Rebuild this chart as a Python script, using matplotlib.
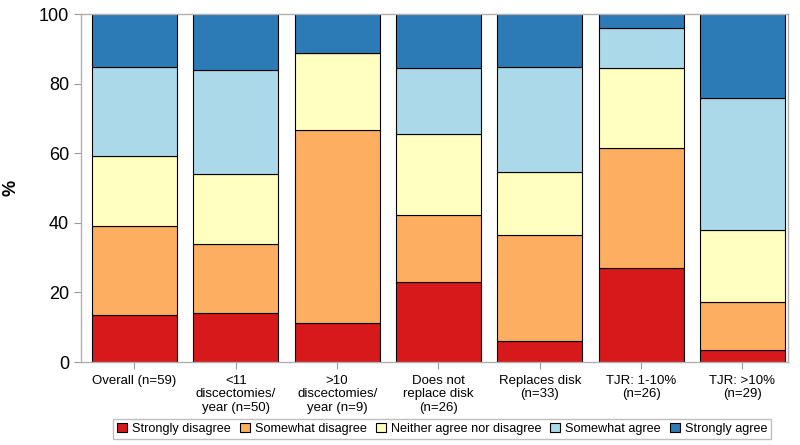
import numpy as np
import matplotlib.pyplot as plt
from matplotlib.patches import Patch

plt.rcParams['font.family'] = ['Liberation Sans', 'DejaVu Sans']

# ---- data (percent of respondents per group) ----
groups = ['Overall (n=59)',
          '<11\ndiscectomies/\nyear (n=50)',
          '>10\ndiscectomies/\nyear (n=9)',
          'Does not\nreplace disk\n(n=26)',
          'Replaces disk\n(n=33)',
          'TJR: 1-10%\n(n=26)',
          'TJR: >10%\n(n=29)']
strongly_disagree = [13.6, 14.0, 11.1, 23.1, 6.1, 26.9, 3.4]
somewhat_disagree = [25.4, 20.0, 55.6, 19.2, 30.3, 34.6, 13.8]
neither = [20.3, 20.0, 22.2, 23.1, 18.2, 23.1, 20.7]
somewhat_agree = [25.4, 30.0, 0.0, 19.2, 30.3, 11.5, 37.9]
strongly_agree = [15.3, 16.0, 11.1, 15.4, 15.2, 3.8, 24.1]

labels = ['Strongly disagree', 'Somewhat disagree', 'Neither agree nor disagree',
          'Somewhat agree', 'Strongly agree']
colors = ['#D7191C', '#FDAE61', '#FFFFBF', '#ABD9E9', '#2C7BB6']

series = [strongly_disagree, somewhat_disagree, neither, somewhat_agree, strongly_agree]

fig = plt.figure(figsize=(8, 4.45), dpi=100)
ax = fig.add_axes([0.101, 0.1865, 0.884, 0.782])

x = np.arange(len(groups))
bottom = np.zeros(len(groups))
for vals, col in zip(series, colors):
    vals = np.array(vals)
    ax.bar(x, vals, bottom=bottom, width=0.84, color=col,
           edgecolor='black', linewidth=0.8)
    bottom += vals

ax.set_xlim(-0.53, 6.45)
ax.set_ylim(0, 100)
ax.set_yticks([0, 20, 40, 60, 80, 100])
ax.set_xticks(x)
ax.set_xticklabels(groups, fontsize=9.5, linespacing=1.2)
ax.tick_params(axis='y', labelsize=13, colors='#999999', labelcolor='black', length=5)
ax.tick_params(axis='x', colors='#999999', labelcolor='black', length=5, pad=4)
for s in ax.spines.values():
    s.set_color('#b0b0b0')
    s.set_linewidth(1)
ax.set_ylabel('%', fontsize=13, fontweight='bold')
ax.yaxis.set_label_coords(-0.086, 0.5)

handles = [Patch(facecolor=c, edgecolor='black', linewidth=0.8) for c in colors]
fig.legend(handles, labels, loc='lower center', bbox_to_anchor=(0.553, 0.0),
           ncol=5, fontsize=9.1, frameon=True, fancybox=False, edgecolor='#b0b0b0',
           handlelength=0.8, handleheight=0.8, handletextpad=0.4, columnspacing=0.7,
           borderpad=0.3)

plt.savefig('out.png', dpi=100)
